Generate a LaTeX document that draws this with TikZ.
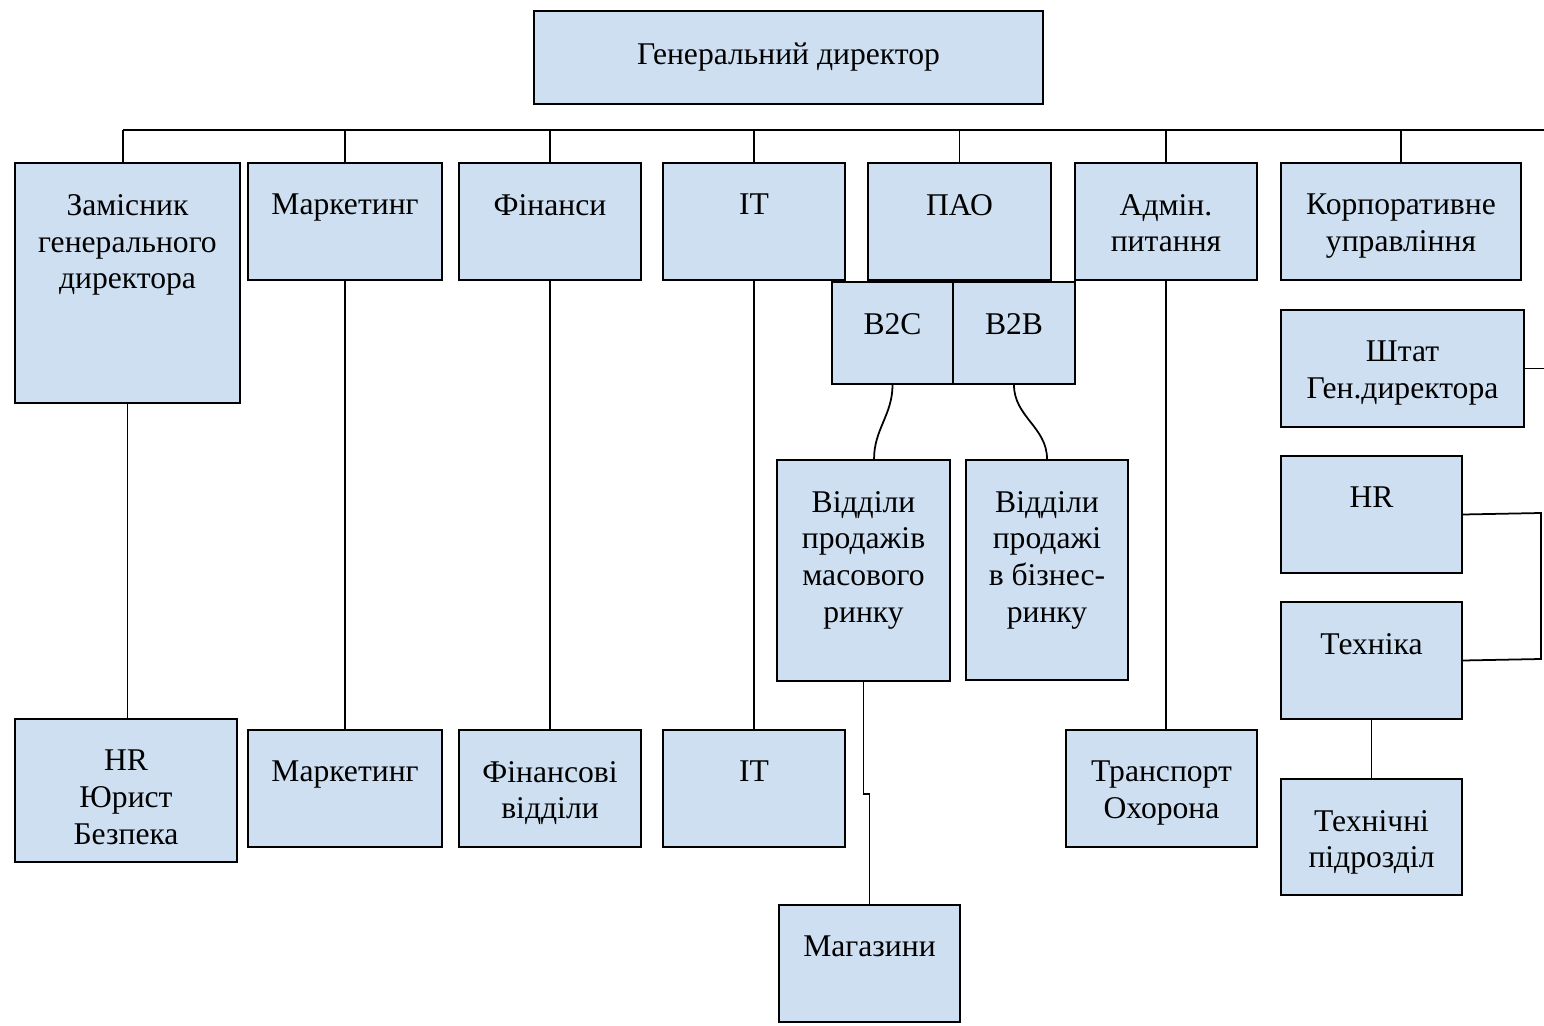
\documentclass[tikz,border=0pt]{standalone}
\usepackage{fontspec}
\setmainfont{Liberation Serif}
\usepackage{tikz}
\usetikzlibrary{positioning}

\definecolor{unitblue}{RGB}{206,223,241}

\begin{document}
\begin{tikzpicture}[
        x=0.02cm, y=-0.02cm,          % 1 unit = 1 pixel of the layout
        line width=1pt,
        unit/.style 2 args={           % rectangle of a department
            draw=black,
            line width=1.2pt,
            fill=unitblue,
            inner sep=0pt,
            minimum width=#1*0.02cm,
            minimum height=#2*0.02cm
        },
        unittext/.style={              % text at the top of a rectangle
            anchor=north,
            yshift=-14.5pt,
            align=center,
            font=\fontsize{18}{21}\selectfont
        }
    ]
    \useasboundingbox (0,0) rectangle (1544,1026);

    % --- Vertice ---
    \node[unit={509}{93}, font=\fontsize{18}{21}\selectfont] (gd) at (788.5,57.5) {Генеральний директор};

    % --- Prima fila ---
    \node[unit={225}{240}, label={[unittext]north:{Замісник\\генерального\\директора}}] (zam) at (127.5,283) {};
    \node[unit={194}{117}, label={[unittext]north:{Маркетинг}}] (mark) at (345,221.5) {};
    \node[unit={182}{117}, label={[unittext]north:{Фінанси}}] (fin) at (550,221.5) {};
    \node[unit={182}{117}, label={[unittext]north:{IT}}] (it) at (754,221.5) {};
    \node[unit={183}{117}, label={[unittext]north:{ПАО}}] (pao) at (959.5,221.5) {};
    \node[unit={182}{117}, label={[unittext]north:{Адмін.\\питання}}] (adm) at (1166,221.5) {};
    \node[unit={240}{117}, label={[unittext]north:{Корпоративне\\управління}}] (corp) at (1401,221.5) {};

    % --- B2C / B2B ---
    \node[unit={121}{102}, label={[unittext]north:{B2C}}] (b2c) at (892.5,333) {};
    \node[unit={122}{102}, label={[unittext]north:{B2B}}] (b2b) at (1014,333) {};

    \node[unit={173}{221}, label={[unittext]north:{Відділи\\продажів\\масового\\ринку}}] (mass) at (863.5,570.5) {};
    \node[unit={162}{220}, label={[unittext]north:{Відділи\\продажі\\в бізнес-\\ринку}}] (biz) at (1047,570) {};
    \node[unit={181}{117}, label={[unittext]north:{Магазини}}] (shops) at (869.5,963.5) {};

    % --- Seconda fila ---
    \node[unit={222}{143}, label={[unittext]north:{HR\\Юрист\\Безпека}}] (hrz) at (126,790.5) {};
    \node[unit={194}{117}, label={[unittext]north:{Маркетинг}}] (mark2) at (345,788.5) {};
    \node[unit={182}{117}, label={[unittext]north:{Фінансові\\відділи}}] (fin2) at (550,788.5) {};
    \node[unit={182}{117}, label={[unittext]north:{IT}}] (it2) at (754,788.5) {};
    \node[unit={191}{117}, label={[unittext]north:{Транспорт\\Охорона}}] (trans) at (1161.5,788.5) {};

    % --- Colonna destra ---
    \node[unit={243}{117}, label={[unittext]north:{Штат\\Ген.директора}}] (staff) at (1402.5,368.5) {};
    \node[unit={181}{117}, label={[unittext]north:{HR}}] (hr) at (1371.5,514.5) {};
    \node[unit={181}{117}, label={[unittext]north:{Техніка}}] (tech) at (1371.5,660.5) {};
    \node[unit={181}{116}, label={[unittext]north:{Технічні\\підрозділ}}] (techu) at (1371.5,837) {};

    % --- Collegamenti ---
    \coordinate (barL) at (123,130);
    \coordinate (barR) at (1544,130);
    \draw (barL) -- (barR);
    \draw (barL) -- (barL |- zam.north);
    \foreach \n in {mark, fin, it, pao, adm, corp}
        \draw (\n.north) -- (\n.north |- barL);

    \draw (zam.south) -- (zam.south |- hrz.north);
    \draw (mark) -- (mark2);
    \draw (fin) -- (fin2);
    \draw (it.south) -- (it2.north);
    \draw (adm.south) -- (adm.south |- trans.north);

    \draw (b2c.south) to[out=-90, in=90] ([xshift=6] mass.north);
    \draw (b2b.south) to[out=-90, in=90] (biz.north);
    \draw (mass.south) -- ++(0,112) -| (shops.north);

    \coordinate (edgeS) at (1544,368.5);
    \coordinate (railT) at (1541,513);
    \coordinate (railB) at (1541,659);
    \draw (staff.east) -- (edgeS);
    \draw (hr.east) -- (railT) -- (railB) -- (tech.east);
    \draw (tech) -- (techu);

\end{tikzpicture}
\end{document}
